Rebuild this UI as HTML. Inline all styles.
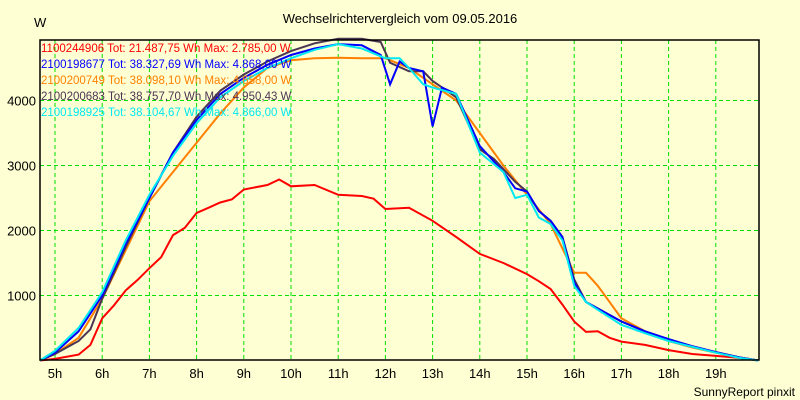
<!DOCTYPE html>
<html><head><meta charset="utf-8"><style>
body{margin:0;background:#ffffd4;}
svg{display:block;font-family:"Liberation Sans",sans-serif;}
</style></head><body>
<svg id="chart" width="800" height="400">
<rect x="0" y="0" width="800" height="400" fill="#ffffd4"/>
<text x="400" y="23" font-size="13" text-anchor="middle">Wechselrichtervergleich vom 09.05.2016</text>
<text x="34" y="27" font-size="13">W</text>
<text x="795" y="396" font-size="12" text-anchor="end">SunnyReport pinxit</text>
<g id="grid"></g><g id="series"></g><g id="legend"></g>
<rect x="40" y="40" width="719" height="320" fill="none" stroke="#000" stroke-width="1.5"/>
</svg>
<script>
const hourTicks=[5,6,7,8,9,10,11,12,13,14,15,16,17,18,19];
const yTicks=[1000,2000,3000,4000];
const seriesNames=["1100244906","2100198677","2100200749","2100200683","2100198925"];
const seriesTot=["21.487,75","38.327,69","38.098,10","38.757,70","38.104,67"];
const seriesMax=["2.785,00","4.868,00","4.658,00","4.950,43","4.866,00"];
const seriesColors=["#ff0000","#0000ff","#ff8000","#4b3553","#00e8f0"];
const redT=[4.68,5,5.5,5.75,6,6.25,6.5,6.75,7,7.25,7.5,7.75,8,8.25,8.5,8.75,9,9.5,9.75,10,10.5,11,11.5,11.75,12,12.5,13,13.5,14,14.5,15,15.25,15.5,15.75,16,16.25,16.5,16.75,17,17.5,18,18.5,19,19.5,19.9];
const redW=[0,25,90,240,650,850,1080,1240,1420,1590,1930,2040,2270,2350,2430,2480,2630,2700,2785,2680,2700,2550,2530,2490,2330,2350,2150,1900,1640,1500,1330,1220,1100,860,600,440,450,350,290,240,160,100,70,40,0];
const blueT=[4.68,5,5.5,6,6.5,7,7.5,8,8.5,9,9.5,10,10.5,11,11.5,11.9,12.1,12.3,12.5,12.8,13,13.2,13.5,14,14.5,14.75,15,15.25,15.5,15.75,16,16.25,16.5,17,17.5,18,18.5,19,19.5,19.9];
const blueW=[0,120,450,1000,1800,2500,3200,3700,4100,4350,4550,4700,4800,4868,4850,4700,4250,4600,4500,4450,3600,4200,4100,3300,2900,2650,2600,2300,2150,1900,1200,900,800,600,450,330,220,130,50,0];
const orangeT=[4.68,5,5.5,6,6.5,7,7.5,8,8.5,9,9.5,10,10.5,11,11.5,12,12.5,13,13.5,14,14.5,15,15.5,16,16.25,16.5,17,17.5,18,18.5,19,19.5,19.9];
const orangeW=[0,100,350,950,1700,2450,2900,3350,3800,4200,4500,4620,4650,4658,4650,4650,4500,4250,4000,3500,3000,2550,2100,1350,1350,1150,650,450,300,200,120,50,0];
const darkT=[4.68,5,5.5,5.75,6,6.5,7,7.5,8,8.5,9,9.5,10,10.5,11,11.5,11.9,12.1,12.5,12.8,13,13.5,14,14.3,14.75,15,15.25,15.5,15.75,16,16.25,16.5,17,17.5,18,18.5,19,19.5,19.9];
const darkW=[0,100,300,480,950,1750,2500,3200,3750,4150,4400,4600,4760,4880,4950,4950,4900,4580,4450,4450,4300,4050,3250,3100,2750,2600,2300,2150,1900,1250,900,800,600,450,320,220,130,50,0];
const cyanT=[4.68,5,5.5,6,6.5,7,7.5,8,8.5,9,9.5,10,10.5,11,11.5,12,12.3,12.5,12.8,13,13.5,14,14.5,14.75,15,15.25,15.5,15.75,16,16.25,16.5,17,17.5,18,18.5,19,19.5,19.9];
const cyanW=[0,150,500,1050,1850,2550,3150,3650,4050,4300,4500,4650,4780,4866,4800,4650,4650,4500,4250,4200,4100,3200,2900,2500,2550,2200,2100,1850,1150,900,780,550,420,300,210,120,40,0];
const allT=[redT,blueT,orangeT,darkT,cyanT];
const allW=[redW,blueW,orangeW,darkW,cyanW];
const NS="http://www.w3.org/2000/svg";
const X0=55,XH=47.2,Y0=360.5,YK=0.065;
function xs(h){return X0+(h-5)*XH;}
function ys(w){return Y0-w*YK;}
function mk(tag,attrs,parent){const e=document.createElementNS(NS,tag);for(const k in attrs)e.setAttribute(k,attrs[k]);parent.appendChild(e);return e;}
const grid=document.getElementById('grid');
hourTicks.forEach(h=>{
  const l=mk('line',{x1:xs(h),x2:xs(h),y1:40,y2:360,stroke:'#00e000','stroke-dasharray':'4,3'},grid);
  
  
  const t=mk('text',{x:xs(h),y:378,'font-size':13,'text-anchor':'middle'},grid);
  t.textContent=h+'h';
  
  
});
yTicks.forEach(v=>{
  const l=mk('line',{x1:40,x2:759,y1:ys(v),y2:ys(v),stroke:'#00e000','stroke-dasharray':'4,3'},grid);
  
  
  const t=mk('text',{x:36,y:ys(v)+5,'font-size':13,'text-anchor':'end'},grid);
  t.textContent=v;
  
  
});
const sg=document.getElementById('series');
const order=[2,0,3,1,4];
order.forEach(i=>{
  const pts=allT[i].map((t,j)=>xs(t).toFixed(1)+','+ys(allW[i][j]).toFixed(1)).join(' ');
  const p=mk('polyline',{points:pts,fill:'none',stroke:seriesColors[i],'stroke-width':2},sg);
  
  
});
const lg=document.getElementById('legend');
seriesNames.forEach((n,i)=>{
  const t=mk('text',{x:41,y:52+i*16,'font-size':11.5,fill:seriesColors[i]},lg);
  t.textContent=n+' Tot: '+seriesTot[i]+' Wh Max: '+seriesMax[i]+' W';
  
  
});
</script>
</body></html>
